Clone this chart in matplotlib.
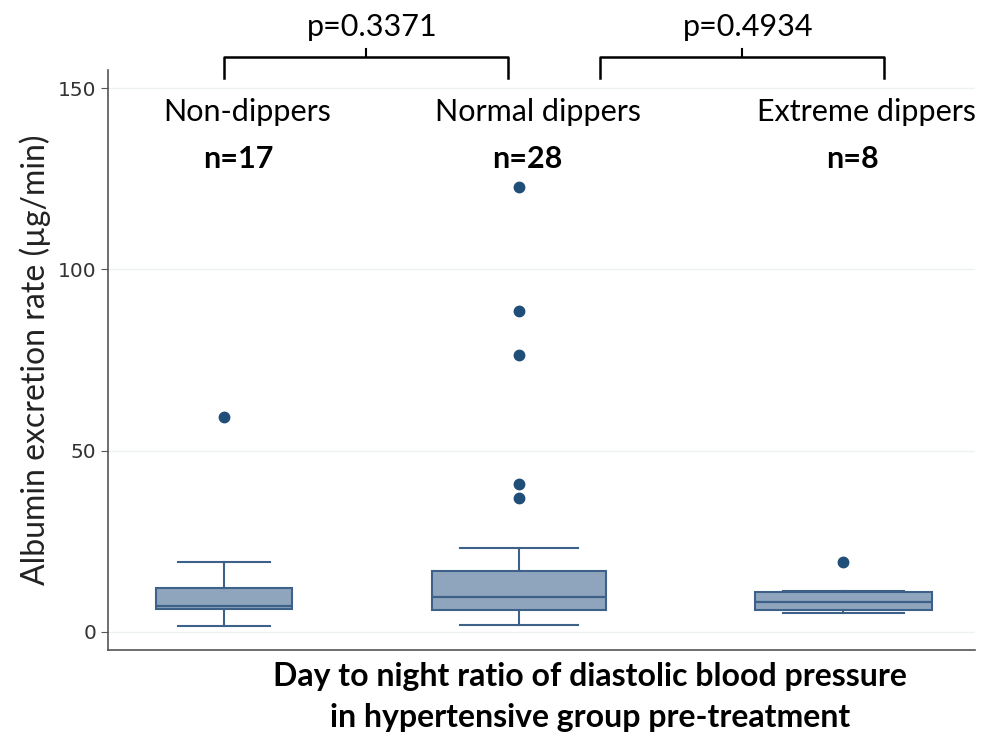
import matplotlib.pyplot as plt

# box summaries (ug/min)
groups = ['Non-dippers', 'Normal dippers', 'Extreme dippers']
counts = ['n=17', 'n=28', 'n=8']
q1 = [6.3, 6.1, 6.1]
median = [7.2, 9.7, 8.3]
q3 = [12.1, 16.8, 11.0]
whislo = [1.7, 1.9, 5.2]
whishi = [19.3, 23.2, 11.3]
outliers = [[59.3], [122.7, 88.5, 76.4, 40.8, 36.9], [19.3]]
pvals = ['p=0.3371', 'p=0.4934']

plt.rcParams['font.family'] = ['Lato', 'DejaVu Sans']

positions = [1.0, 2.0, 3.1]
widths = [0.46, 0.59, 0.6]

stats = []
for i in range(len(groups)):
    stats.append({'med': median[i], 'q1': q1[i], 'q3': q3[i],
                  'whislo': whislo[i], 'whishi': whishi[i],
                  'fliers': outliers[i]})

fig = plt.figure(figsize=(9.84, 7.35), dpi=100)
ax = fig.add_axes([0.1098, 0.1156, 0.881, 0.789])

edge = '#3d6189'
ax.bxp(stats, positions=positions, widths=widths, patch_artist=True,
       boxprops=dict(facecolor='#8ea5bd', edgecolor=edge, linewidth=1.5),
       medianprops=dict(color=edge, linewidth=1.6),
       whiskerprops=dict(color=edge, linewidth=1.5),
       capprops=dict(color=edge, linewidth=1.5),
       capwidths=[w * 0.68 for w in widths],
       flierprops=dict(marker='o', markerfacecolor='#1f4e79', markeredgecolor='#1f4e79',
                       markersize=7.5),
       zorder=3)

ax.set_ylim(-5, 155)
ax.set_xlim(0.607, 3.546)
ax.set_yticks([0, 50, 100, 150])
ax.tick_params(axis='y', labelsize=14.5, colors='#555555', labelcolor='#333333', length=5)
for lab in ax.get_yticklabels():
    lab.set_family('DejaVu Sans')
ax.tick_params(axis='x', bottom=False, labelbottom=False)
for y in [0, 50, 100, 150]:
    ax.axhline(y, color='#eef1f3', linewidth=1, zorder=0)
for s in ['top', 'right']:
    ax.spines[s].set_visible(False)
for s in ['left', 'bottom']:
    ax.spines[s].set_color('#555555')
    ax.spines[s].set_linewidth(1.2)

ax.set_ylabel('Albumin excretion rate (µg/min)', fontsize=23, color='#222222', labelpad=5)

# group labels and counts
name_x = [1.08, 2.065, 3.18]
n_x = [1.05, 2.03, 3.13]
for i in range(len(groups)):
    ax.text(name_x[i], 143.5, groups[i], ha='center', va='center', fontsize=22)
    ax.text(n_x[i], 130.5, counts[i], ha='center', va='center', fontsize=22, fontweight='bold')

# significance brackets
brackets = [(1.0, 1.963), (2.275, 3.237)]
for (a, b), p in zip(brackets, pvals):
    top = 158.5
    ax.plot([a, a, b, b], [152.8, top, top, 152.8], color='black', lw=1.8, clip_on=False)
    mid = (a + b) / 2
    ax.plot([mid, mid], [top, top + 2.3], color='black', lw=1.5, clip_on=False)
    ax.text(mid + 0.02, top + 8.5, p, ha='center', va='center', fontsize=22)

fig.text(0.6, 0.08, 'Day to night ratio of diastolic blood pressure', ha='center', va='center',
         fontsize=23, fontweight='bold')
fig.text(0.6, 0.024, 'in hypertensive group pre-treatment', ha='center', va='center',
         fontsize=23, fontweight='bold')

fig.savefig('out.png', dpi=100)
